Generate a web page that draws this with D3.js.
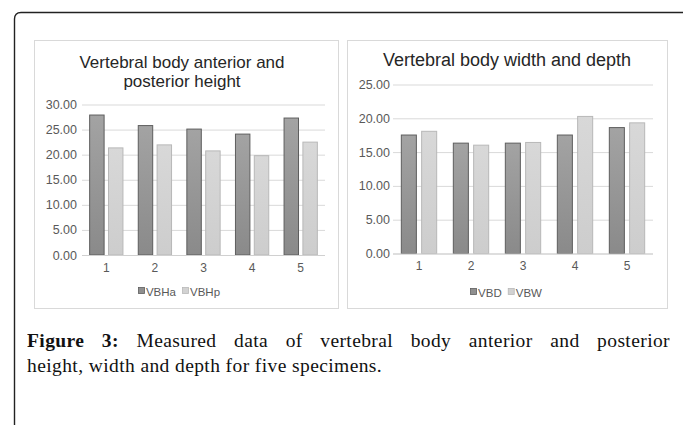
<!DOCTYPE html>
<html><head><meta charset="utf-8">
<script src="https://cdn.jsdelivr.net/npm/d3@7"></script>
<style>
html,body{margin:0;padding:0;background:#fff;}
svg{display:block;}
</style></head>
<body>
<svg id="c" width="683" height="425"></svg>
<script>
const categories = ["1","2","3","4","5"];
const leftTitle = ["Vertebral body anterior and","posterior height"];
const leftSeries = ["VBHa","VBHp"];
const VBHa = [28.0, 25.9, 25.2, 24.2, 27.4];
const VBHp = [21.45, 22.05, 20.85, 19.9, 22.6];
const leftTicks = [0,5,10,15,20,25,30];

const rightTitle = ["Vertebral body width and depth"];
const rightSeries = ["VBD","VBW"];
const VBD = [17.6, 16.4, 16.4, 17.6, 18.7];
const VBW = [18.15, 16.1, 16.5, 20.35, 19.4];
const rightTicks = [0,5,10,15,20,25];

const captionBold = "Figure 3:";
const captionLine1 = "Measured data of vertebral body anterior and posterior";
const captionLine2 = "height, width and depth for five specimens.";

const svg = d3.select("#c");
const defs = svg.append("defs");
function grad(id, c1, c2){
  const g = defs.append("linearGradient").attr("id",id).attr("x1",0).attr("y1",0).attr("x2",0).attr("y2",1);
  g.append("stop").attr("offset","0%").attr("stop-color",c1);
  g.append("stop").attr("offset","100%").attr("stop-color",c2);
}
grad("gDark","#a3a3a3","#8a8a8a");
grad("gLight","#d8d8d8","#cdcdcd");
const fills = ["url(#gDark)","url(#gLight)"];
const strokes = ["#5e5e5e","#b8b8b8"];
const legendFill = ["#8f8f8f","#d2d2d2"];
const SANS = "Liberation Sans, Arial, sans-serif";

svg.append("path")
  .attr("d","M683,12.5 L21,12.5 Q14.5,12.5 14.5,19 L14.5,425")
  .attr("fill","none").attr("stroke","#222").attr("stroke-width",1.4);

function drawChart(cfg){
  const g = svg.append("g");
  g.append("rect").attr("x",cfg.px).attr("y",cfg.py).attr("width",cfg.pw).attr("height",cfg.ph)
    .attr("fill","#fff").attr("stroke","#d9d9d9").attr("stroke-width",1);
  cfg.title.forEach((t,i)=>{
    g.append("text").attr("x",cfg.tx).attr("y",cfg.ty + i*19)
      .attr("text-anchor","middle").attr("font-family",SANS)
      .attr("font-size",cfg.tfs).attr("fill","#262626").text(t);
  });
  const y = d3.scaleLinear().domain([0, d3.max(cfg.ticks)]).range([cfg.y0, cfg.y1]);
  const x0 = d3.scaleBand().domain(categories).range([cfg.x0, cfg.x1]).padding(0);
  const x1 = d3.scaleBand().domain(cfg.series).range([0, x0.bandwidth()]).paddingInner(cfg.pin).paddingOuter(cfg.pout);
  const yAxis = d3.axisLeft(y).tickValues(cfg.ticks).tickSize(-(cfg.x1-cfg.x0)).tickPadding(cfg.tp).tickFormat(d3.format(".2f"));
  const ga = g.append("g").attr("transform",`translate(${cfg.x0},0)`).call(yAxis);
  ga.select(".domain").remove();
  ga.selectAll(".tick line").attr("stroke","#d9d9d9");
  ga.selectAll(".tick text").attr("font-family",SANS).attr("font-size",12.5).attr("fill","#595959");
  const data = categories.map((c,i)=>({c, vals: cfg.values.map((arr,k)=>({s:cfg.series[k], v:arr[i], k}))}));
  const grp = g.selectAll(".grp").data(data).join("g").attr("transform",d=>`translate(${x0(d.c)},0)`);
  grp.selectAll("rect").data(d=>d.vals).join("rect")
    .attr("x",d=>x1(d.s)+0.5).attr("y",d=>y(d.v)+0.5)
    .attr("width",x1.bandwidth()-1).attr("height",d=>y(0)-y(d.v)-0.5)
    .attr("fill",d=>fills[d.k]).attr("stroke",d=>strokes[d.k]).attr("stroke-width",1);
  g.append("line").attr("x1",cfg.x0).attr("x2",cfg.x1).attr("y1",y(0)+0.5).attr("y2",y(0)+0.5).attr("stroke","#d0d0d0");
  const xAxis = d3.axisBottom(x0).tickSize(0).tickPadding(8);
  const gx = g.append("g").attr("transform",`translate(0,${y(0)})`).call(xAxis);
  gx.select(".domain").remove();
  gx.selectAll(".tick text").attr("font-family",SANS).attr("font-size",12).attr("fill","#595959");
  const lg = g.append("g");
  let off = 0;
  cfg.series.forEach((s,k)=>{
    lg.append("rect").attr("x",off+0.5).attr("y",-4.5).attr("width",6).attr("height",6)
      .attr("fill",legendFill[k]).attr("stroke",strokes[k]).attr("stroke-width",0.8);
    const t = lg.append("text").attr("x",off+8).attr("y",3.5).attr("font-family",SANS)
      .attr("font-size",11.5).attr("fill","#595959").text(s);
    off += 8 + t.node().getComputedTextLength() + 6;
  });
  const w = off - 6;
  lg.attr("transform",`translate(${cfg.lx - w/2},${cfg.ly})`);
}

drawChart({px:34.5, py:40.5, pw:304, ph:268, title:leftTitle, tx:182, ty:68, tfs:17,
  ticks:leftTicks, y0:255, y1:104.5, x0:82, x1:325, tp:5, series:leftSeries, values:[VBHa,VBHp],
  pin:0.18, pout:0.38, lx:179, ly:292});
drawChart({px:347.5, py:40.5, pw:320, ph:268, title:rightTitle, tx:507, ty:66, tfs:18,
  ticks:rightTicks, y0:253.5, y1:84.5, x0:393, x1:653, tp:3, series:rightSeries, values:[VBD,VBW],
  pin:0.21, pout:0.385, lx:506, ly:293});

const fo = svg.append("foreignObject").attr("x",27).attr("y",328).attr("width",643).attr("height",62);
const div = fo.append("xhtml:div").style("font-family","'Liberation Serif', 'Times New Roman', serif")
  .style("font-size","19.5px").style("letter-spacing","0.4px").style("color","#111").style("line-height","25px");
const l1 = div.append("xhtml:div").style("text-align","justify").style("text-align-last","justify").style("white-space","nowrap");
l1.append("xhtml:b").text(captionBold);
l1.append("xhtml:span").text(" " + captionLine1);
div.append("xhtml:div").text(captionLine2);
</script>
</body></html>
